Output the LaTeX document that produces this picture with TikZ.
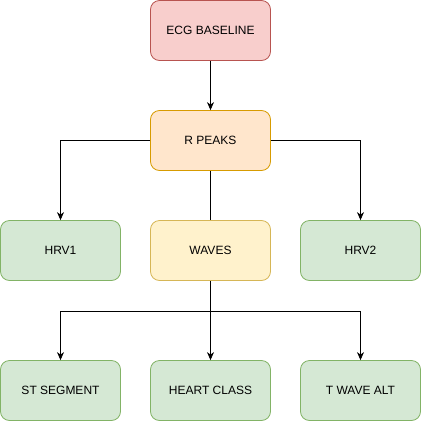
\documentclass[tikz,border=0pt]{standalone}
\usepackage{fontspec}
\setmainfont{Liberation Sans}
\usetikzlibrary{shapes, arrows.meta}
\definecolor{redfill}{HTML}{F8CECC}
\definecolor{redline}{HTML}{B85450}
\definecolor{orangefill}{HTML}{FFE6CC}
\definecolor{orangeline}{HTML}{D79B00}
\definecolor{yellowfill}{HTML}{FFF2CC}
\definecolor{yellowline}{HTML}{D6B656}
\definecolor{greenfill}{HTML}{D5E8D4}
\definecolor{greenline}{HTML}{82B366}
\tikzstyle{block} = [rectangle, rounded corners=9pt, minimum width=120pt, minimum height=60pt, text centered, line width=0.8pt, font=\fontsize{12}{14}\selectfont]
\tikzstyle{source} = [block, draw=redline, fill=redfill]
\tikzstyle{peaks} = [block, draw=orangeline, fill=orangefill]
\tikzstyle{waveblock} = [block, draw=yellowline, fill=yellowfill]
\tikzstyle{result} = [block, draw=greenline, fill=greenfill]
\tikzstyle{line} = [line width=0.8pt]
\tikzstyle{arrow} = [line, -{Stealth[length=8pt, width=7pt, inset=2.5pt]}]

\begin{document}
\begin{tikzpicture}[x=1pt, y=1pt, node distance=110pt]
\useasboundingbox (0,0) rectangle (421,-421);

\node (ecg) [source] at (210.5,-30.5) {ECG BASELINE};
\node (rpeaks) [peaks, below of=ecg] {R PEAKS};
\node (waves) [waveblock, below of=rpeaks] {WAVES};
\node (hrv1) [result, left of=waves, node distance=150pt] {HRV1};
\node (hrv2) [result, right of=waves, node distance=150pt] {HRV2};
\node (heart) [result, below of=waves, node distance=140pt] {HEART CLASS};
\node (stseg) [result, left of=heart, node distance=150pt] {ST SEGMENT};
\node (twave) [result, right of=heart, node distance=150pt] {T WAVE ALT};
\coordinate (split) at ([yshift=-30pt]waves.south);

\draw [arrow] (ecg) -- (rpeaks);
\draw [arrow] (rpeaks.west) -| (hrv1);
\draw [arrow] (rpeaks.east) -| (hrv2);
\draw [line] (rpeaks) -- (waves);
\draw [line] (waves) -- (split);
\draw [arrow] (split) -| (stseg);
\draw [arrow] (split) -| (twave);
\draw [arrow] (split) -- (heart);

\end{tikzpicture}
\end{document}
